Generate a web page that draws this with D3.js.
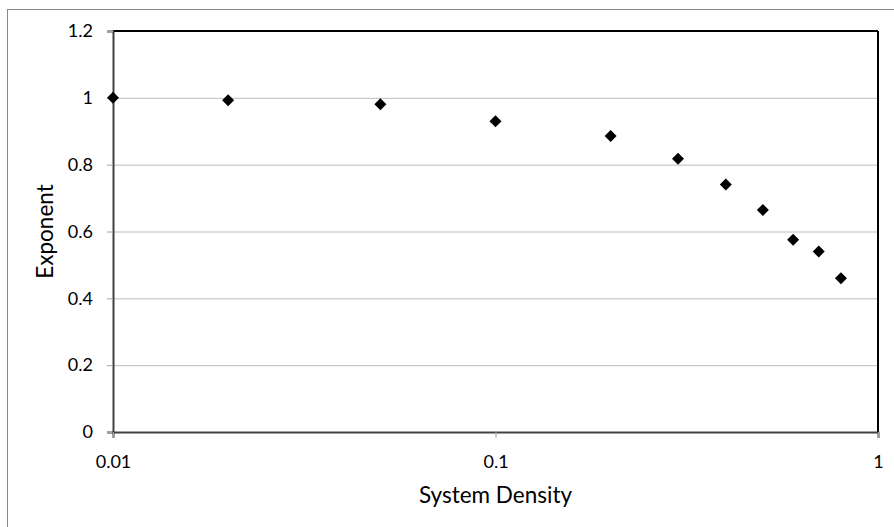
<!DOCTYPE html>
<html>
<head>
<meta charset="utf-8">
<script src="https://cdn.jsdelivr.net/npm/d3@7"></script>
<style>
  body { margin: 0; background: #fff; overflow: hidden; }
  text { font-family: Lato, "Noto Sans", sans-serif; fill: #000; }
</style>
</head>
<body>
<div id="chart"></div>
<script>
var density = [0.01, 0.02, 0.05, 0.1, 0.2, 0.3, 0.4, 0.5, 0.6, 0.7, 0.8];
var exponent = [1.0, 0.993, 0.981, 0.930, 0.886, 0.818, 0.741, 0.664, 0.575, 0.540, 0.460];
var xTicks = [0.01, 0.1, 1];
var yTicks = [0, 0.2, 0.4, 0.6, 0.8, 1, 1.2];

var width = 894, height = 527;
var margin = {left: 113, right: 16, top: 31, bottom: 95};

var svg = d3.select("#chart").append("svg")
  .attr("width", width)
  .attr("height", height)
  .style("display", "block");

// outer chart border (right and bottom edges fall outside the picture)
svg.append("rect")
  .attr("x", 7.5).attr("y", 9.5)
  .attr("width", 1000).attr("height", 1000)
  .attr("fill", "#fff")
  .attr("stroke", "#898989");

var x = d3.scaleLog().domain([0.01, 1]).range([margin.left, width - margin.right]);
var y = d3.scaleLinear().domain([0, 1.2]).range([height - margin.bottom, margin.top]);

// gridlines
svg.append("g").selectAll("line")
  .data(yTicks.slice(1, -1))
  .enter().append("line")
  .attr("x1", x(0.01)).attr("x2", x(1))
  .attr("y1", d => y(d) + 0.5).attr("y2", d => y(d) + 0.5)
  .attr("stroke", "#bdbdbd");

// plot frame: top/right black
svg.append("line")
  .attr("x1", x(0.01)).attr("x2", x(1))
  .attr("y1", y(1.2)).attr("y2", y(1.2))
  .attr("stroke", "#000").attr("stroke-width", 2);
svg.append("line")
  .attr("x1", x(1)).attr("x2", x(1))
  .attr("y1", y(1.2)).attr("y2", y(0))
  .attr("stroke", "#000").attr("stroke-width", 2);

var yAxis = d3.axisLeft(y).tickValues(yTicks).tickSize(6).tickPadding(14)
  .tickFormat(d => d3.format("")(d));
var gy = svg.append("g")
  .attr("transform", "translate(" + x(0.01) + ",0)")
  .call(yAxis);
gy.select(".domain").attr("stroke", "#404040").attr("stroke-width", 2);
gy.selectAll(".tick line").attr("stroke", "#a0a0a0");
gy.selectAll(".tick text").attr("font-size", 18);

var xAxis = d3.axisBottom(x).tickValues(xTicks).tickSize(6).tickPadding(17)
  .tickFormat(d => String(d));
var gx = svg.append("g")
  .attr("transform", "translate(0," + y(0) + ")")
  .call(xAxis);
gx.select(".domain").attr("stroke", "#404040").attr("stroke-width", 2);
gx.selectAll(".tick line").attr("stroke", "#a0a0a0");
gx.selectAll(".tick text").attr("font-size", 18);

// markers
var diamond = "M0,-6L6,0L0,6L-6,0Z";
svg.append("g").selectAll("path")
  .data(density.map((d, i) => ({x: d, y: exponent[i]})))
  .enter().append("path")
  .attr("d", diamond)
  .attr("transform", d => "translate(" + x(d.x) + "," + y(d.y) + ")")
  .attr("fill", "#000");

svg.append("text")
  .attr("x", x(0.1)).attr("y", 503)
  .attr("text-anchor", "middle")
  .attr("font-size", 22.5)
  .text("System Density");

svg.append("text")
  .attr("transform", "translate(53," + y(0.6) + ") rotate(-90)")
  .attr("text-anchor", "middle")
  .attr("font-size", 22.5)
  .text("Exponent");
</script>
</body>
</html>
